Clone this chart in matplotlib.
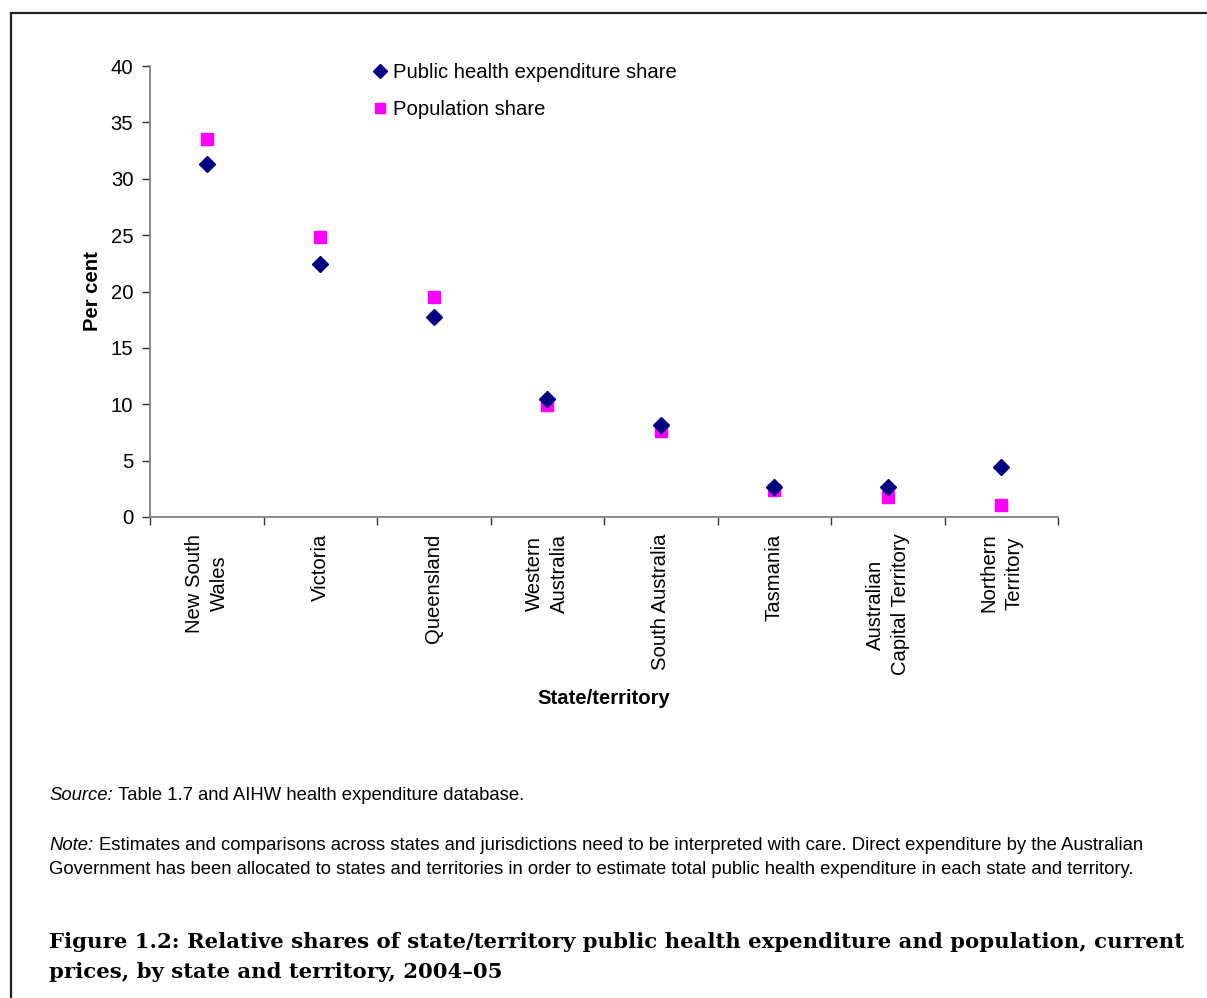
import matplotlib
matplotlib.use("Agg")
from matplotlib import pyplot as plt
from matplotlib import patches
import numpy as np

# Data
states = ["New South\nWales", "Victoria", "Queensland", "Western\nAustralia",
          "South Australia", "Tasmania", "Australian\nCapital Territory",
          "Northern\nTerritory"]
health_share = [31.3, 22.4, 17.7, 10.5, 8.2, 2.7, 2.7, 4.4]
population_share = [33.5, 24.8, 19.5, 9.9, 7.6, 2.4, 1.8, 1.1]
y_ticks = [0, 5, 10, 15, 20, 25, 30, 35, 40]

W, H = 1207, 998
plt.rcParams["font.family"] = "Liberation Sans"
plt.rcParams["font.size"] = 14.6

fig = plt.figure(figsize=(W / 100, H / 100), dpi=100)
ax = fig.add_axes([150 / W, 1 - 517 / H, (1058 - 150) / W, (517 - 66) / H])

x = np.arange(len(states))
ax.plot(x, health_share, linestyle="none", marker="D", markersize=8.3,
        color="#000080", label="Public health expenditure share", zorder=3)
ax.plot(x, population_share, linestyle="none", marker="s", markersize=8.2,
        color="#ff00ff", label="Population share", zorder=2)

ax.set_xlim(-0.5, len(states) - 0.5)
ax.set_ylim(0, 40)
ax.set_yticks(y_ticks)
ax.set_xticks(np.arange(len(states) + 1) - 0.5)
ax.set_xticklabels([])
ax.set_xticks(x, minor=True)
ax.set_xticklabels(states, minor=True, rotation=90, va="top", ha="center",
                   multialignment="center", linespacing=1.4)
ax.tick_params(axis="x", which="minor", length=0, pad=12)
ax.tick_params(axis="both", which="major", length=6, width=1, color="#333333")
ax.tick_params(axis="y", pad=6)

for side in ["top", "right"]:
    ax.spines[side].set_visible(False)
for side in ["left", "bottom"]:
    ax.spines[side].set_color("#808080")
    ax.spines[side].set_linewidth(1.3)

ax.set_ylabel("Per cent", fontweight="bold", labelpad=6)
ax.set_xlabel("State/territory", fontweight="bold", labelpad=10)

fig.legend(loc="upper left", bbox_to_anchor=(374 / W, 1 - 63 / H),
           frameon=False, numpoints=1, markerscale=0.85, handlelength=0.6,
           handletextpad=0.35, labelspacing=0.88, borderpad=0, borderaxespad=0)

# Notes and caption
fs_note = 13.3
fig.text(49 / W, 1 - 795 / H, "Source:", fontsize=fs_note, va="center", style="italic")
fig.text(118 / W, 1 - 795 / H, "Table 1.7 and AIHW health expenditure database.",
         fontsize=fs_note, va="center")
fig.text(49 / W, 1 - 845 / H, "Note:", fontsize=fs_note, va="center", style="italic")
fig.text(99 / W, 1 - 845 / H, "Estimates and comparisons across states and jurisdictions "
         "need to be interpreted with care. Direct expenditure by the Australian",
         fontsize=fs_note, va="center")
fig.text(49 / W, 1 - 869 / H, "Government has been allocated to states and territories in "
         "order to estimate total public health expenditure in each state and territory.",
         fontsize=fs_note, va="center")

fig.text(49 / W, 1 - 942 / H, "Figure 1.2: Relative shares of state/territory public health "
         "expenditure and population, current", fontsize=15.35, fontweight="bold",
         family="DejaVu Serif", va="center")
fig.text(49 / W, 1 - 972 / H, "prices, by state and territory, 2004\u201305",
         fontsize=15.35, fontweight="bold", family="DejaVu Serif", va="center")

# outer frame
frame = patches.Rectangle((11 / W, -0.05), 1.2, 1 - 13 / H + 0.05,
                          transform=fig.transFigure, fill=False,
                          edgecolor="#222222", linewidth=1.6)
fig.patches.append(frame)

fig.savefig("out.png", dpi=100)
